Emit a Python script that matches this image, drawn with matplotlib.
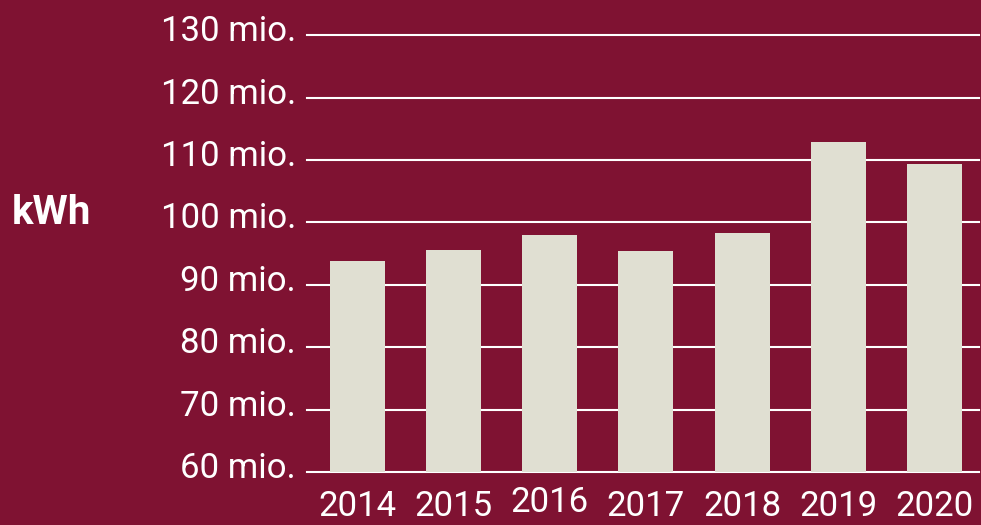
import matplotlib.pyplot as plt
import matplotlib.transforms as mtransforms
import numpy as np

# energy use per year, million kWh
years = ["2014", "2015", "2016", "2017", "2018", "2019", "2020"]
kwh_mio = [93.8, 95.6, 98.0, 95.4, 98.3, 112.9, 109.3]
yticks = [60, 70, 80, 90, 100, 110, 120, 130]
ytick_labels = [f"{v} mio." for v in yticks]

bg = "#7f1232"
bar_col = "#e0dfd2"

plt.rcParams['font.family'] = ['Roboto', 'DejaVu Sans']

fig = plt.figure(figsize=(9.81, 5.25), dpi=100, facecolor=bg)
ax = fig.add_axes([307/981, 0.101, (979-307)/981, 0.945-0.101])
ax.set_facecolor(bg)

x = np.arange(len(years))
ax.bar(x, kwh_mio, width=0.57, color=bar_col, zorder=3)

ax.set_ylim(60, 131)
ax.set_xlim(-0.52, 6.46)
ax.set_yticks(yticks)
ax.set_yticklabels(ytick_labels)
ax.set_xticks(x)
ax.set_xticklabels(years)

for v in yticks:
    ax.axhline(v, color="white", lw=1.5, zorder=1, clip_on=False)

ax.tick_params(axis="y", length=0, pad=8, labelsize=25, labelcolor="white")
ax.tick_params(axis="x", length=0, pad=13, labelsize=25, labelcolor="white")
for s in ax.spines.values():
    s.set_visible(False)

# y labels sit a bit above their gridline
up = mtransforms.ScaledTranslation(0, 7/100, fig.dpi_scale_trans)
for lab in ax.get_yticklabels():
    lab.set_transform(lab.get_transform() + up)
# 2016 label is slightly raised in the original
lab16 = ax.get_xticklabels()[2]
lab16.set_transform(lab16.get_transform() + mtransforms.ScaledTranslation(0, 4/100, fig.dpi_scale_trans))

fig.text(12/981, 1 - 213/525, "kWh", color="white", fontsize=29,
         fontweight="bold", ha="left", va="center")

fig.savefig("out.png", facecolor=bg)
